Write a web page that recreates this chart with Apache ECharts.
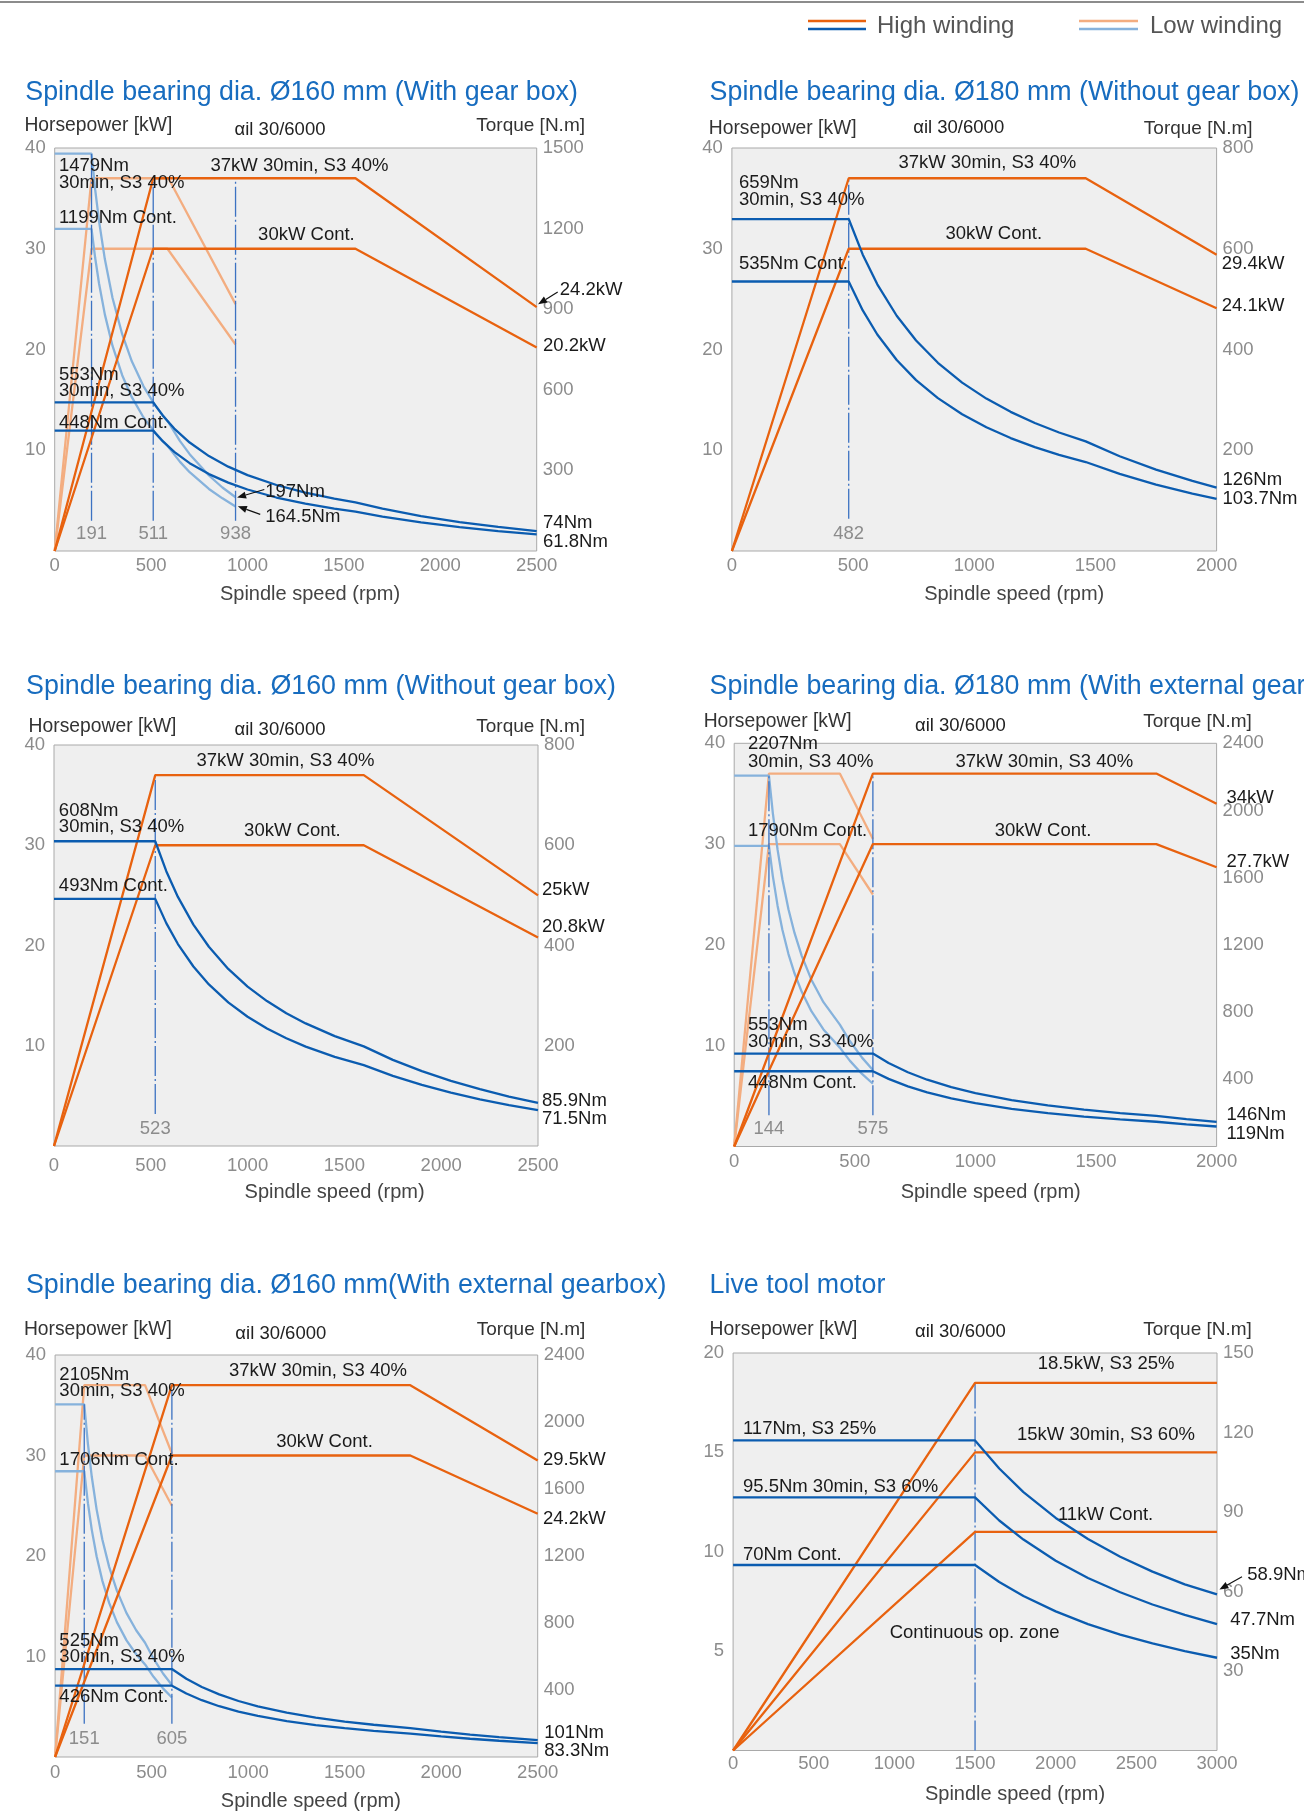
<!DOCTYPE html>
<html><head><meta charset="utf-8">
<script src="https://cdn.jsdelivr.net/npm/echarts@6/dist/echarts.min.js"></script>
<style>html,body{margin:0;padding:0;background:#fff}#c{width:1304px;height:1813px}</style>
</head><body><div id="c"></div>
<script>
// ================= DATA =================
const legendNames = ['High winding', 'Low winding'];
const axisNames = { power: 'Horsepower [kW]', torque: 'Torque [N.m]', speed: 'Spindle speed (rpm)', motor: 'αil 30/6000' };

// ---- Panel 1 ----
const p1Title = 'Spindle bearing dia. Ø160 mm (With gear box)';
const p1SpeedTicks = [0, 500, 1000, 1500, 2000, 2500];
const p1PowerTicks = [0, 10, 20, 30, 40];
const p1TorqueTicks = [0, 300, 600, 900, 1200, 1500];
const p1HighPowerS3 = [[0,0],[511,37],[1560,37],[2500,24.2]];
const p1HighPowerCont = [[0,0],[511,30],[1560,30],[2500,20.2]];
const p1LowPowerS3 = [[0,0],[191,37],[590,37],[938,24.5]];
const p1LowPowerCont = [[0,0],[191,30],[585,30],[938,20.5]];
const p1HighTorqueS3 = [[0,553],[511,553],[560,504.6],[620,455.8],[700,403.7],[800,353.2],[900,314],[1000,282.6],[1150,245.7],[1300,217.4],[1450,194.9],[1560,181.1],[1700,157.6],[1900,130.1],[2100,107.8],[2300,89.4],[2500,74]];
const p1HighTorqueCont = [[0,448],[511,448],[560,408.8],[620,369.2],[700,327],[800,286.2],[900,254.4],[1000,228.9],[1150,199.1],[1300,176.1],[1450,157.9],[1560,146.7],[1700,128.1],[1900,106.3],[2100,88.6],[2300,74],[2500,61.8]];
const p1LowTorqueS3 = [[0,1479],[191,1479],[210,1345],[230,1228],[260,1086.5],[300,941.7],[350,807],[400,706],[460,614],[520,543],[590,478.8],[650,409],[700,360.5],[800,281],[870,236.4],[938,200]];
const p1LowTorqueCont = [[0,1199],[191,1199],[210,1090.5],[230,995.7],[260,880.8],[300,763.4],[350,654.3],[400,572.5],[460,497.8],[520,440.4],[585,391.5],[650,331.8],[700,293.4],[800,231],[870,196],[938,166]];
const p1SpeedMarks = [[191,39.4],[511,37],[938,37]];
const p1Notes = [[22,38.2,'1479Nm'],[22,36.5,'30min, S3 40%'],[22,33.1,'1199Nm Cont.'],[808,38.2,'37kW 30min, S3 40%'],[1055,31.4,'30kW Cont.'],[2620,25.9,'24.2kW'],[2533,20.4,'20.2kW'],[22,17.5,'553Nm'],[22,15.85,'30min, S3 40%'],[22,12.75,'448Nm Cont.'],[1092,5.9,'197Nm'],[1092,3.36,'164.5Nm'],[2533,2.76,'74Nm'],[2533,0.95,'61.8Nm']];
const p1Arrows = [[2609,25.7,2507,24.5],[1087,6.1,946,5.3],[1066,3.64,950,4.43]];

// ---- Panel 2 ----
const p2Title = 'Spindle bearing dia. Ø180 mm (Without gear box)';
const p2SpeedTicks = [0, 500, 1000, 1500, 2000];
const p2PowerTicks = [0, 10, 20, 30, 40];
const p2TorqueTicks = [0, 200, 400, 600, 800];
const p2HighPowerS3 = [[0,0],[482,37],[1460,37],[2000,29.4]];
const p2HighPowerCont = [[0,0],[482,30],[1460,30],[2000,24.1]];
const p2HighTorqueS3 = [[0,659],[482,659],[540,588.2],[600,529.3],[680,467],[760,417.9],[850,373.6],[950,334.3],[1050,302.5],[1150,276.2],[1250,254.1],[1350,235.3],[1460,217.6],[1600,188],[1750,161.5],[1900,139.2],[2000,126]];
const p2HighTorqueCont = [[0,535],[482,535],[540,477.6],[600,429.8],[680,379.2],[760,339.3],[850,303.4],[950,271.4],[1050,245.6],[1150,224.2],[1250,206.3],[1350,191],[1460,176.6],[1600,153],[1750,131.8],[1900,114],[2000,103.7]];
const p2SpeedMarks = [[482,37]];
const p2Notes = [[29,36.5,'659Nm'],[29,34.8,'30min, S3 40%'],[29,28.5,'535Nm Cont.'],[687,38.5,'37kW 30min, S3 40%'],[881,31.5,'30kW Cont.'],[2021,28.5,'29.4kW'],[2021,24.35,'24.1kW'],[2024,7.09,'126Nm'],[2024,5.2,'103.7Nm']];
const p2Arrows = [];

// ---- Panel 3 ----
const p3Title = 'Spindle bearing dia. Ø160 mm (Without gear box)';
const p3SpeedTicks = [0, 500, 1000, 1500, 2000, 2500];
const p3PowerTicks = [0, 10, 20, 30, 40];
const p3TorqueTicks = [0, 200, 400, 600, 800];
const p3HighPowerS3 = [[0,0],[523,37],[1600,37],[2500,25]];
const p3HighPowerCont = [[0,0],[523,30],[1600,30],[2500,20.8]];
const p3HighTorqueS3 = [[0,608],[523,608],[580,548.3],[640,496.9],[720,441.7],[800,397.5],[900,353.3],[1000,318],[1100,289.1],[1200,265],[1300,244.6],[1450,219.3],[1600,198.8],[1750,171.9],[1900,149.3],[2050,130],[2200,113.3],[2350,98.7],[2500,85.9]];
const p3HighTorqueCont = [[0,493],[523,493],[580,444.6],[640,402.9],[720,358.1],[800,322.3],[900,286.5],[1000,257.9],[1100,234.4],[1200,214.9],[1300,198.3],[1450,177.8],[1600,161.2],[1750,139.8],[1900,121.8],[2050,106.5],[2200,93.2],[2350,81.7],[2500,71.5]];
const p3SpeedMarks = [[523,37]];
const p3Notes = [[25,33.45,'608Nm'],[25,31.8,'30min, S3 40%'],[25,25.9,'493Nm Cont.'],[736,38.4,'37kW 30min, S3 40%'],[982,31.45,'30kW Cont.'],[2521,25.5,'25kW'],[2521,21.9,'20.8kW'],[2521,4.5,'85.9Nm'],[2521,2.7,'71.5Nm']];
const p3Arrows = [];

// ---- Panel 4 ----
const p4Title = 'Spindle bearing dia. Ø180 mm (With external gearbox)';
const p4SpeedTicks = [0, 500, 1000, 1500, 2000];
const p4PowerTicks = [0, 10, 20, 30, 40];
const p4TorqueTicks = [0, 400, 800, 1200, 1600, 2000, 2400];
const p4HighPowerS3 = [[0,0],[575,37],[1750,37],[2000,34]];
const p4HighPowerCont = [[0,0],[575,30],[1750,30],[2000,27.7]];
const p4LowPowerS3 = [[0,0],[144,37],[438,37],[575,30.5]];
const p4LowPowerCont = [[0,0],[144,30],[438,30],[575,25]];
const p4HighTorqueS3 = [[0,553],[575,553],[640,496.9],[720,441.7],[800,397.5],[900,353.3],[1000,318],[1150,276.5],[1300,244.6],[1450,219.3],[1600,198.8],[1750,181.7],[1875,162.7],[2000,146]];
const p4HighTorqueCont = [[0,448],[575,448],[640,402.5],[720,357.8],[800,322],[900,286.2],[1000,257.6],[1150,224],[1300,198.2],[1450,177.6],[1600,161],[1750,147.2],[1875,132.1],[2000,119]];
const p4LowTorqueS3 = [[0,2207],[144,2207],[160,1986],[180,1765.6],[200,1589],[225,1412.5],[250,1271],[280,1135],[320,993],[370,859],[438,725.6],[480,626.3],[530,529],[575,455.6]];
const p4LowTorqueCont = [[0,1790],[144,1790],[160,1611],[180,1432],[200,1289],[225,1145.6],[250,1031],[280,920.6],[320,805.5],[370,696.6],[438,588.5],[480,509.6],[530,431.8],[575,373.6]];
const p4SpeedMarks = [[144,36.8],[575,37]];
const p4Notes = [[57,39.9,'2207Nm'],[57,38.2,'30min, S3 40%'],[57,31.3,'1790Nm Cont.'],[917,38.2,'37kW 30min, S3 40%'],[1080,31.3,'30kW Cont.'],[2041,34.6,'34kW'],[2041,28.2,'27.7kW'],[57,12.1,'553Nm'],[57,10.4,'30min, S3 40%'],[57,6.3,'448Nm Cont.'],[2041,3.1,'146Nm'],[2041,1.2,'119Nm']];
const p4Arrows = [];

// ---- Panel 5 ----
const p5Title = 'Spindle bearing dia. Ø160 mm(With external gearbox)';
const p5SpeedTicks = [0, 500, 1000, 1500, 2000, 2500];
const p5PowerTicks = [0, 10, 20, 30, 40];
const p5TorqueTicks = [0, 400, 800, 1200, 1600, 2000, 2400];
const p5HighPowerS3 = [[0,0],[605,37],[1840,37],[2500,29.5]];
const p5HighPowerCont = [[0,0],[605,30],[1840,30],[2500,24.2]];
const p5LowPowerS3 = [[0,0],[151,37],[466,37],[605,30.2]];
const p5LowPowerCont = [[0,0],[151,30],[466,30],[605,25]];
const p5HighTorqueS3 = [[0,525],[605,525],[680,467.1],[760,417.9],[850,373.6],[950,334.3],[1050,302.5],[1200,264.7],[1350,235.3],[1500,211.7],[1650,192.5],[1840,172.6],[2000,151],[2150,133.7],[2300,118.6],[2500,101]];
const p5HighTorqueCont = [[0,426],[605,426],[680,379],[760,339.1],[850,303.2],[950,271.3],[1050,245.5],[1200,214.8],[1350,190.9],[1500,171.8],[1650,156.2],[1840,140.1],[2000,122.8],[2150,109],[2300,97],[2500,83.3]];
const p5LowTorqueS3 = [[0,2105],[151,2105],[170,1869.8],[190,1672.9],[215,1478.4],[245,1297.4],[280,1135.2],[320,993.3],[370,859],[420,756.8],[466,682.1],[510,587],[560,497],[605,430]];
const p5LowTorqueCont = [[0,1706],[151,1706],[170,1515.4],[190,1356],[215,1198.4],[245,1051.5],[280,920],[320,805],[370,696.2],[420,613.4],[466,552.8],[510,478.5],[560,408.2],[605,355]];
const p5SpeedMarks = [[151,35.1],[605,37]];
const p5Notes = [[22,38.05,'2105Nm'],[22,36.4,'30min, S3 40%'],[22,29.6,'1706Nm Cont.'],[901,38.4,'37kW 30min, S3 40%'],[1145,31.4,'30kW Cont.'],[2527,29.55,'29.5kW'],[2527,23.7,'24.2kW'],[22,11.6,'525Nm'],[22,9.97,'30min, S3 40%'],[22,5.97,'426Nm Cont.'],[2534,2.39,'101Nm'],[2534,0.6,'83.3Nm']];
const p5Arrows = [];

// ---- Panel 6 ----
const p6Title = 'Live tool motor';
const p6SpeedTicks = [0, 500, 1000, 1500, 2000, 2500, 3000];
const p6PowerTicks = [0, 5, 10, 15, 20];
const p6TorqueTicks = [0, 30, 60, 90, 120, 150];
const p6PowerS3 = [[0,0],[1500,18.5],[3000,18.5]];
const p6Power30min = [[0,0],[1500,15],[3000,15]];
const p6PowerCont = [[0,0],[1500,11],[3000,11]];
const p6TorqueS3 = [[0,117],[1500,117],[1650,106.4],[1800,97.5],[2000,87.75],[2200,79.8],[2400,73.1],[2600,67.5],[2800,62.7],[3000,58.9]];
const p6Torque30min = [[0,95.5],[1500,95.5],[1650,86.8],[1800,79.6],[2000,71.6],[2200,65.1],[2400,59.7],[2600,55.1],[2800,51.2],[3000,47.7]];
const p6TorqueCont = [[0,70],[1500,70],[1650,63.6],[1800,58.3],[2000,52.5],[2200,47.7],[2400,43.75],[2600,40.4],[2800,37.5],[3000,35]];
const p6SpeedMarks = [[1500,18.5]];
const p6Notes = [[1888,19.44,'18.5kW, S3 25%'],[61,16.2,'117Nm, S3 25%'],[1760,15.87,'15kW 30min, S3 60%'],[61,13.28,'95.5Nm 30min, S3 60%'],[2014,11.84,'11kW Cont.'],[61,9.85,'70Nm Cont.'],[971,5.92,'Continuous op. zone'],[3187,8.82,'58.9Nm'],[3082,6.56,'47.7Nm'],[3082,4.84,'35Nm']];
const p6Arrows = [[3155,8.74,3015,8.1]];

// ================= STYLE / LAYOUT =================
const FONT = "'Liberation Sans', Arial, Helvetica, sans-serif";
const COL = { orange:'#e8620f', blue:'#0b5cb0', lorange:'#f3ad80', lblue:'#86b2dc', mark:'#3c72c2',
  tick:'#8c8c8c', text:'#1a1a1a', title:'#176cbf', name:'#333333', bg:'#efefef', border:'#a9a9a9' };

const panels = [
  { title:p1Title, sx:p1SpeedTicks, px:p1PowerTicks, tx:p1TorqueTicks,
    lines:[[p1LowPowerS3,'L','lorange'],[p1LowPowerCont,'L','lorange'],[p1LowTorqueS3,'R','lblue'],[p1LowTorqueCont,'R','lblue'],
           [p1HighPowerS3,'L','orange'],[p1HighPowerCont,'L','orange'],[p1HighTorqueS3,'R','blue'],[p1HighTorqueCont,'R','blue']],
    marks:p1SpeedMarks, notes:p1Notes, arrows:p1Arrows,
    L:{grid:[54.7,148,482,403], title:[25.3,92.9], hp:[24.4,126], ail:[280,130.4], tq:[585,126], spd:[310,594], mb:3.0, ml:1.66, xm:5} },
  { title:p2Title, sx:p2SpeedTicks, px:p2PowerTicks, tx:p2TorqueTicks,
    lines:[[p2HighPowerS3,'L','orange'],[p2HighPowerCont,'L','orange'],[p2HighTorqueS3,'R','blue'],[p2HighTorqueCont,'R','blue']],
    marks:p2SpeedMarks, notes:p2Notes, arrows:p2Arrows,
    L:{grid:[731.9,148,484.7,403], title:[709.6,92.9], hp:[708.8,128.6], ail:[958.7,127.9], tq:[1252.6,128.6], spd:[1014.2,594], mb:3.2, ml:1.66, xm:5} },
  { title:p3Title, sx:p3SpeedTicks, px:p3PowerTicks, tx:p3TorqueTicks,
    lines:[[p3HighPowerS3,'L','orange'],[p3HighPowerCont,'L','orange'],[p3HighTorqueS3,'R','blue'],[p3HighTorqueCont,'R','blue']],
    marks:p3SpeedMarks, notes:p3Notes, arrows:p3Arrows,
    L:{grid:[54,745,484,401], title:[26.1,686.8], hp:[28.6,726.8], ail:[280,729.6], tq:[585,726.8], spd:[334.6,1192.1], mb:3.2, ml:1.74, xm:10} },
  { title:p4Title, sx:p4SpeedTicks, px:p4PowerTicks, tx:p4TorqueTicks,
    lines:[[p4LowPowerS3,'L','lorange'],[p4LowPowerCont,'L','lorange'],[p4LowTorqueS3,'R','lblue'],[p4LowTorqueCont,'R','lblue'],
           [p4HighPowerS3,'L','orange'],[p4HighPowerCont,'L','orange'],[p4HighTorqueS3,'R','blue'],[p4HighTorqueCont,'R','blue']],
    marks:p4SpeedMarks, notes:p4Notes, arrows:p4Arrows,
    L:{grid:[734.2,743.3,482.4,403.2], title:[709.6,686.8], hp:[703.7,721.8], ail:[960.4,726.1], tq:[1251.9,721.8], spd:[990.7,1192.1], mb:3.1, ml:1.78, xm:6} },
  { title:p5Title, sx:p5SpeedTicks, px:p5PowerTicks, tx:p5TorqueTicks,
    lines:[[p5LowPowerS3,'L','lorange'],[p5LowPowerCont,'L','lorange'],[p5LowTorqueS3,'R','lblue'],[p5LowTorqueCont,'R','lblue'],
           [p5HighPowerS3,'L','orange'],[p5HighPowerCont,'L','orange'],[p5HighTorqueS3,'R','blue'],[p5HighTorqueCont,'R','blue']],
    marks:p5SpeedMarks, notes:p5Notes, arrows:p5Arrows,
    L:{grid:[55.1,1355,482.6,402], title:[26,1285.9], hp:[23.9,1329.7], ail:[280.8,1333.7], tq:[585.4,1329.7], spd:[310.9,1801.2], mb:3.3, ml:1.79, xm:6} },
  { title:p6Title, sx:p6SpeedTicks, px:p6PowerTicks, tx:p6TorqueTicks,
    lines:[[p6PowerS3,'L','orange'],[p6Power30min,'L','orange'],[p6PowerCont,'L','orange'],[p6TorqueS3,'R','blue'],[p6Torque30min,'R','blue'],[p6TorqueCont,'R','blue']],
    marks:p6SpeedMarks, notes:p6Notes, arrows:p6Arrows,
    L:{grid:[733.1,1353,483.9,397.5], title:[709.6,1285.2], hp:[709.6,1329.7], ail:[960.4,1331.9], tq:[1251.9,1329.7], spd:[1015,1794], mb:0, ml:null, xm:4} }
];

// ================= BUILD =================
const grids = [], xAxes = [], yAxes = [], series = [], graphics = [];
const font = (s) => `${s}px ${FONT}`;
function txt(x, y, text, size, fill, align) {
  return { type:'text', x, y, silent:true, style:{ text, fill, font:font(size), textAlign:align||'left', textVerticalAlign:'middle', align:align||'left', verticalAlign:'middle' } };
}
function axisFromTicks(t) { return { min:t[0], max:t[t.length-1], interval:t[1]-t[0] }; }
const plain = (v) => String(v);

panels.forEach((P, i) => {
  const L = P.L;
  grids.push({ left:L.grid[0], top:L.grid[1], width:L.grid[2], height:L.grid[3], show:true,
    backgroundColor:COL.bg, borderColor:COL.border, borderWidth:1, containLabel:false, outerBoundsMode:'none' });
  const lab = { color:COL.tick, fontSize:18.5, fontFamily:FONT, formatter:plain };
  xAxes.push(Object.assign({ gridIndex:i, type:'value', axisLine:{show:false}, axisTick:{show:false}, splitLine:{show:false},
    axisLabel:Object.assign({ margin:L.xm }, lab) }, axisFromTicks(P.sx)));
  yAxes.push(Object.assign({ gridIndex:i, type:'value', position:'left', axisLine:{show:false}, axisTick:{show:false}, splitLine:{show:false},
    axisLabel:Object.assign({ margin:9, showMinLabel:false }, lab) }, axisFromTicks(P.px)));
  yAxes.push(Object.assign({ gridIndex:i, type:'value', position:'right', axisLine:{show:false}, axisTick:{show:false}, splitLine:{show:false},
    axisLabel:Object.assign({ margin:6, showMinLabel:false }, lab) }, axisFromTicks(P.tx)));
  const yL = 2*i, yR = 2*i+1;

  P.lines.forEach(([data, ax, c]) => {
    const isLight = c === 'lorange' || c === 'lblue';
    series.push({ type:'line', data, xAxisIndex:i, yAxisIndex: ax === 'L' ? yL : yR, symbol:'none', silent:true,
      animation:false, z: isLight ? 3 : 5, lineStyle:{ color:COL[c], width:2.3 }, itemStyle:{ color:COL[c] } });
  });

  // vertical speed markers (dash-dot)
  const marks = P.marks;
  series.push({ type:'custom', xAxisIndex:i, yAxisIndex:yL, silent:true, animation:false, clip:false, z:4,
    data: marks.map(m => [m[0], m[1]]), encode:{ x:0, y:1 },
    renderItem: (params, api) => {
      const m = marks[params.dataIndex];
      const a = api.coord([m[0], L.mb]), b = api.coord([m[0], m[1]]);
      const children = [{ type:'line', shape:{ x1:a[0], y1:a[1], x2:b[0], y2:b[1] },
        style:{ stroke:COL.mark, lineWidth:1.3, lineDash:[30,3,2,3] } }];
      if (L.ml !== null) {
        const c = api.coord([m[0], L.ml]);
        children.push({ type:'text', x:c[0], y:c[1], style:{ text:String(m[0]), fill:COL.tick, font:font(18.5),
          textAlign:'center', textVerticalAlign:'middle', align:'center', verticalAlign:'middle' } });
      }
      return { type:'group', children };
    } });

  // annotation texts
  const notes = P.notes;
  series.push({ type:'custom', xAxisIndex:i, yAxisIndex:yL, silent:true, animation:false, clip:false, z:10,
    data: notes.map(n => [n[0], n[1]]), encode:{ x:0, y:1 },
    renderItem: (params, api) => {
      const n = notes[params.dataIndex];
      const p = api.coord([n[0], n[1]]);
      return { type:'text', x:p[0], y:p[1], style:{ text:n[2], fill:COL.text, font:font(18.5),
        textAlign:'left', textVerticalAlign:'middle', align:'left', verticalAlign:'middle' } };
    } });

  // arrows
  const arrows = P.arrows;
  if (arrows.length) series.push({ type:'custom', xAxisIndex:i, yAxisIndex:yL, silent:true, animation:false, clip:false, z:10,
    data: arrows.map(a => [a[0], a[1]]), encode:{ x:0, y:1 },
    renderItem: (params, api) => {
      const d = arrows[params.dataIndex];
      const a = api.coord([d[0], d[1]]), b = api.coord([d[2], d[3]]);
      const ang = Math.atan2(b[1]-a[1], b[0]-a[0]), len = 9, w = 3.5;
      const base = [b[0]-len*Math.cos(ang), b[1]-len*Math.sin(ang)];
      const l = [base[0]+w*Math.sin(ang), base[1]-w*Math.cos(ang)], r = [base[0]-w*Math.sin(ang), base[1]+w*Math.cos(ang)];
      return { type:'group', children:[
        { type:'line', shape:{ x1:a[0], y1:a[1], x2:base[0], y2:base[1] }, style:{ stroke:'#111', lineWidth:1.2 } },
        { type:'polygon', shape:{ points:[b, l, r] }, style:{ fill:'#111' } } ] };
    } });

  graphics.push(txt(L.title[0], L.title[1], P.title, 26.8, COL.title, 'left'));
  graphics.push(txt(L.hp[0], L.hp[1], axisNames.power, 19.3, COL.name, 'left'));
  graphics.push(txt(L.ail[0], L.ail[1], axisNames.motor, 18.5, '#222', 'center'));
  graphics.push(txt(L.tq[0], L.tq[1], axisNames.torque, 19, COL.name, 'right'));
  graphics.push(txt(L.spd[0], L.spd[1], axisNames.speed, 20, '#444', 'center'));
});

// top rule and legend
graphics.push({ type:'line', silent:true, shape:{ x1:0, y1:2, x2:1304, y2:2 }, style:{ stroke:'#666', lineWidth:1.5 } });
[[808, 866, 877, COL.orange, COL.blue, legendNames[0]], [1079, 1138, 1150, COL.lorange, COL.lblue, legendNames[1]]].forEach(g => {
  graphics.push({ type:'line', silent:true, shape:{ x1:g[0], y1:21, x2:g[1], y2:21 }, style:{ stroke:g[3], lineWidth:2.5 } });
  graphics.push({ type:'line', silent:true, shape:{ x1:g[0], y1:29, x2:g[1], y2:29 }, style:{ stroke:g[4], lineWidth:2.5 } });
  graphics.push(txt(g[2], 26, g[5], 24, '#555', 'left'));
});

const chart = echarts.init(document.getElementById('c'), null, { renderer:'canvas', width:1304, height:1813 });
chart.setOption({ animation:false, backgroundColor:'#ffffff', grid:grids, xAxis:xAxes, yAxis:yAxes, series, graphic:graphics });
</script></body></html>
